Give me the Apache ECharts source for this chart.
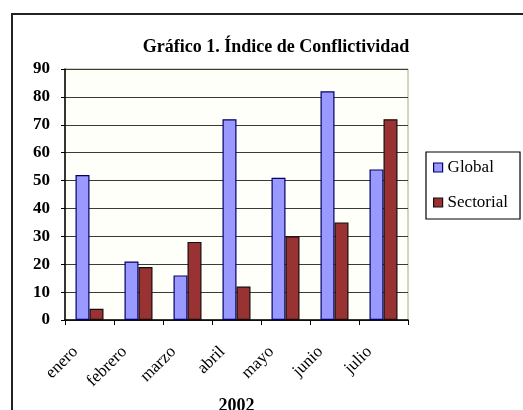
<!DOCTYPE html>
<html>
<head>
<meta charset="utf-8">
<script src="https://cdn.jsdelivr.net/npm/echarts@6/dist/echarts.min.js"></script>
<style>html,body{margin:0;padding:0;background:#fff}#c{width:523px;height:410px}</style>
</head>
<body>
<div id="c"></div>
<script>
const categories = ['enero', 'febrero', 'marzo', 'abril', 'mayo', 'junio', 'julio'];
const globalValues = [52, 21, 16, 72, 51, 82, 54];
const sectorialValues = [4, 19, 28, 12, 30, 35, 72];
const yTicks = [0, 10, 20, 30, 40, 50, 60, 70, 80, 90];
const titleText = 'Gráfico 1. Índice de Conflictividad';
const xName = '2002';

const serif = '"Liberation Serif", "DejaVu Serif", serif';
const chart = echarts.init(document.getElementById('c'), null, {renderer: 'canvas'});
chart.setOption({
  animation: false,
  backgroundColor: '#ffffff',
  graphic: [
    {type: 'rect', shape: {x: 12, y: 14, width: 530, height: 420},
     style: {fill: 'none', stroke: '#222', lineWidth: 2}, z: 0, silent: true}
  ],
  title: {
    text: titleText, left: 271, top: 33, textAlign: 'center',
    textStyle: {fontFamily: serif, fontWeight: 'bold', fontSize: 18, color: '#000'}
  },
  legend: {
    orient: 'vertical', left: 426, top: 152,
    padding: [7, 12, 8, 7], itemGap: 18, itemWidth: 9, itemHeight: 9, itemTextGap: 7,
    borderColor: '#000', borderWidth: 1.2, backgroundColor: '#fff',
    icon: 'rect',
    itemStyle: {borderWidth: 1.2},
    textStyle: {fontFamily: serif, fontSize: 17, color: '#000'},
    data: ['Global', 'Sectorial']
  },
  grid: {left: 65, top: 69, right: 115, bottom: 90, show: true, outerBoundsMode: 'none',
         containLabel: false,
         backgroundColor: '#fffffa', borderColor: '#a8a888', borderWidth: 1},
  xAxis: {
    type: 'category', data: categories,
    name: xName, nameLocation: 'middle', nameGap: 68,
    nameTextStyle: {fontFamily: serif, fontSize: 18, fontWeight: 'bold', color: '#000'},
    axisLine: {lineStyle: {color: '#000', width: 1.5}},
    axisTick: {show: true, alignWithLabel: false, length: 5, lineStyle: {color: '#000'}},
    axisLabel: {rotate: 45, margin: 15, padding: [0, 20, 0, 0], fontFamily: serif, fontSize: 17, color: '#000', interval: 0}
  },
  yAxis: {
    type: 'value', min: 0, max: 90, interval: 10,
    axisLine: {show: true, lineStyle: {color: '#000', width: 1.5}},
    axisTick: {show: true, length: 4, lineStyle: {color: '#000'}},
    axisLabel: {margin: 15, fontFamily: serif, fontSize: 17, fontWeight: 'bold', color: '#000',
                formatter: v => yTicks.includes(v) ? String(v) : ''},
    splitLine: {show: true, lineStyle: {color: '#3a3a3a', width: 1.2}}
  },
  series: [
    {name: 'Global', type: 'bar', data: globalValues, barWidth: 14, barGap: '0%',
     itemStyle: {color: '#9999ff', borderColor: '#000066', borderWidth: 1.2}},
    {name: 'Sectorial', type: 'bar', data: sectorialValues, barWidth: 14,
     itemStyle: {color: '#993333', borderColor: '#1a0a0a', borderWidth: 1.2}}
  ]
});
</script>
</body>
</html>
